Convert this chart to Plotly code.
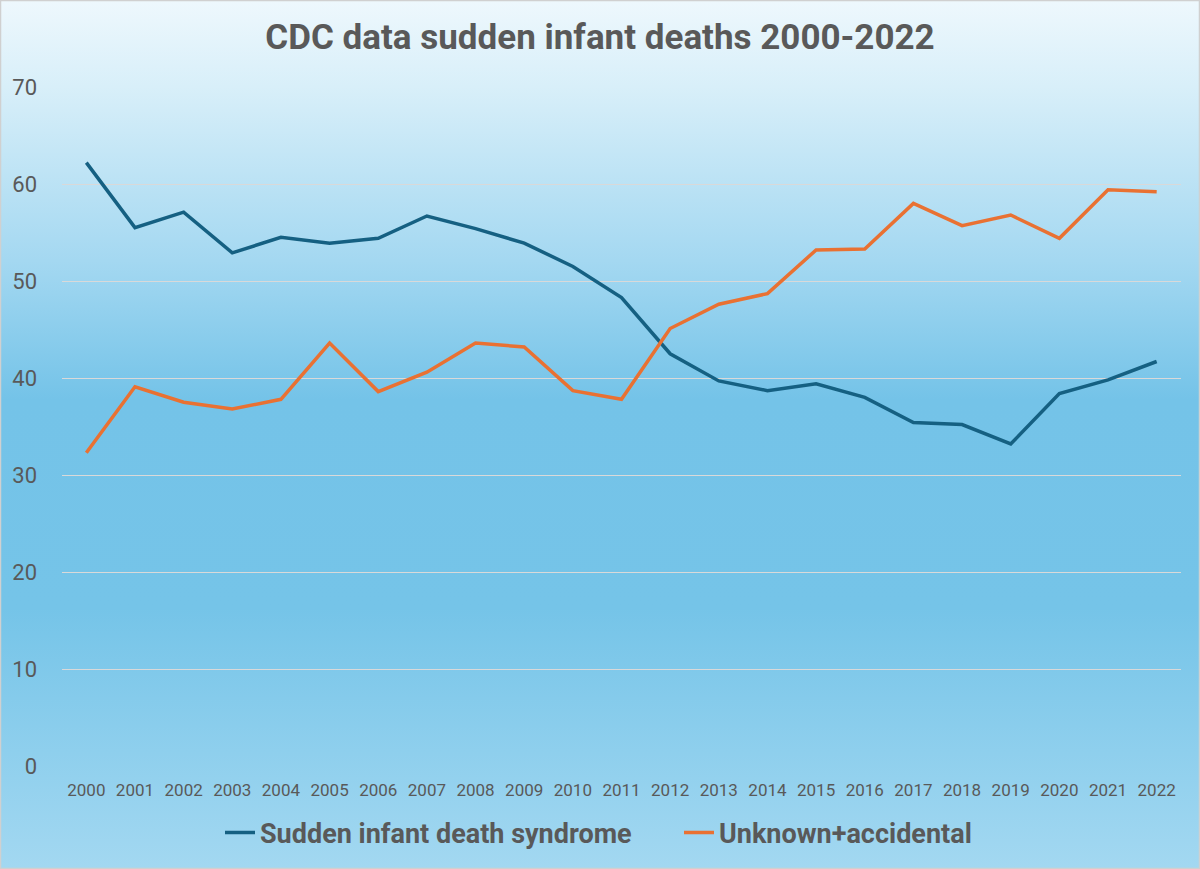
import base64
import plotly.graph_objects as go

years = [str(y) for y in range(2000, 2023)]
sids = [62.2, 55.5, 57.1, 52.9, 54.5, 53.9, 54.4, 56.7, 55.4, 53.9, 51.5, 48.3,
        42.5, 39.7, 38.7, 39.4, 38.0, 35.4, 35.2, 33.2, 38.4, 39.8, 41.7]
unknown = [32.3, 39.1, 37.5, 36.8, 37.8, 43.6, 38.6, 40.6, 43.6, 43.2, 38.7, 37.8,
           45.1, 47.6, 48.7, 53.2, 53.3, 58.0, 55.7, 56.8, 54.4, 59.4, 59.2]
y_ticks = [0, 10, 20, 30, 40, 50, 60, 70]

W, H = 1200, 869
ML, MR, MT, MB = 62, 19, 87, 103
pw, ph = W - ML - MR, H - MT - MB

grad_svg = f'''<svg xmlns="http://www.w3.org/2000/svg" width="{W}" height="{H}" preserveAspectRatio="none" viewBox="0 0 {W} {H}">
<defs><linearGradient id="g" x1="0" y1="0" x2="0" y2="1">
<stop offset="0" stop-color="#eef8fd"/>
<stop offset="0.1" stop-color="#d8eff9"/>
<stop offset="0.3" stop-color="#a4d8f1"/>
<stop offset="0.46" stop-color="#74c3e8"/>
<stop offset="0.7" stop-color="#75c4e8"/>
<stop offset="1" stop-color="#a3d8f1"/>
</linearGradient></defs>
<rect x="0" y="0" width="{W}" height="{H}" fill="url(#g)"/>
</svg>'''
src = "data:image/svg+xml;base64," + base64.b64encode(grad_svg.encode()).decode()

x0p, x1p = -ML / pw, 1 + MR / pw
y0p, y1p = -MB / ph, 1 + MT / ph

fig = go.Figure()
fig.add_trace(go.Scatter(x=years, y=sids, mode="lines", name="Sudden infant death syndrome",
                         line=dict(color="#156082", width=3.5), legend="legend"))
fig.add_trace(go.Scatter(x=years, y=unknown, mode="lines", name="Unknown+accidental",
                         line=dict(color="#E97132", width=3.5), legend="legend2"))

fig.add_layout_image(dict(source=src, xref="paper", yref="paper", x=x0p, y=y1p,
                          sizex=x1p - x0p, sizey=y1p - y0p, sizing="stretch",
                          xanchor="left", yanchor="top", layer="below"))
fig.add_shape(type="rect", xref="paper", yref="paper",
              x0=x0p + 0.5 / pw, x1=x1p - 0.5 / pw, y0=y0p + 0.5 / ph, y1=y1p - 0.5 / ph,
              line=dict(color="#d0d0d0", width=1.5), fillcolor="rgba(0,0,0,0)")

leg_font = dict(family="Roboto", size=27, color="#595959", weight="bold")
leg_y = -(833 - (H - MB)) / ph

fig.update_layout(
    width=W, height=H,
    margin=dict(l=ML, r=MR, t=MT, b=MB),
    paper_bgcolor="rgba(0,0,0,0)", plot_bgcolor="rgba(0,0,0,0)",
    title=dict(text="<b>CDC data sudden infant deaths 2000-2022</b>",
               x=(600 - ML) / pw, xref="paper", xanchor="center",
               y=1 - 37 / H, yref="container", yanchor="middle",
               font=dict(family="Roboto", size=35, color="#595959")),
    showlegend=True,
    legend=dict(orientation="h", x=(220 - ML) / pw, xanchor="left",
                y=leg_y, yanchor="middle", font=leg_font,
                bgcolor="rgba(0,0,0,0)", itemwidth=30),
    legend2=dict(orientation="h", x=(679 - ML) / pw, xanchor="left",
                 y=leg_y, yanchor="middle", font=leg_font,
                 bgcolor="rgba(0,0,0,0)", itemwidth=30),
    xaxis=dict(type="category", range=[-0.5, 22.5], showgrid=False, zeroline=False,
               showline=False, ticks="", tickfont=dict(family="Roboto", size=17, color="#595959"),
               ticklabelstandoff=12),
    yaxis=dict(range=[0, 70], tickvals=y_ticks, showgrid=True, gridcolor="#d9d9d9",
               gridwidth=1.3, zeroline=False, showline=False, ticks="",
               tickfont=dict(family="Roboto", size=22, color="#595959"),
               ticklabelstandoff=24),
)

fig.write_html("out.html")
